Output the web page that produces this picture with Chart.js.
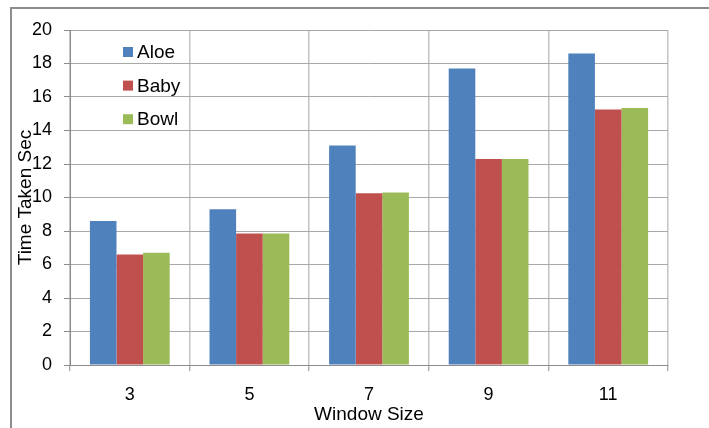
<!DOCTYPE html>
<html>
<head>
<meta charset="utf-8">
<script src="https://cdn.jsdelivr.net/npm/chart.js@4/dist/chart.umd.min.js"></script>
<style>
  html, body { margin: 0; padding: 0; background: #fff; }
  #wrap { width: 709px; height: 428px; position: relative; }
</style>
</head>
<body>
<div id="wrap"><canvas id="c" width="709" height="428"></canvas></div>
<script>
// Window sizes and time taken (seconds) per image
const windowSizes = ['3', '5', '7', '9', '11'];
const aloe = [8.6, 9.3, 13.1, 17.7, 18.6];
const baby = [6.6, 7.85, 10.25, 12.3, 15.25];
const bowl = [6.7, 7.85, 10.3, 12.3, 15.35];
const seriesNames = ['Aloe', 'Baby', 'Bowl'];
const seriesColors = ['#4F81BD', '#C0504D', '#9BBB59'];

const FONT = "'Liberation Sans', Arial, sans-serif";

// Outer frame around the chart
const framePlugin = {
  id: 'frame',
  beforeDraw(chart) {
    const ctx = chart.ctx;
    ctx.save();
    ctx.strokeStyle = '#8c8c8c';
    ctx.lineWidth = 2;
    ctx.beginPath();
    ctx.moveTo(11, 440);
    ctx.lineTo(11, 8);
    ctx.lineTo(720, 8);
    ctx.stroke();
    ctx.restore();
  }
};

// Legend drawn inside the plot area, top left
const innerLegend = {
  id: 'innerLegend',
  afterDatasetsDraw(chart) {
    const ctx = chart.ctx;
    ctx.save();
    ctx.font = '19px ' + FONT;
    ctx.textBaseline = 'middle';
    ctx.textAlign = 'left';
    chart.data.datasets.forEach((ds, i) => {
      const cy = 52 + i * 33.6;
      ctx.fillStyle = ds.backgroundColor;
      ctx.fillRect(123, cy - 5, 10, 10);
      ctx.fillStyle = '#000';
      ctx.fillText(ds.label, 137, cy + 1);
    });
    ctx.restore();
  }
};

new Chart(document.getElementById('c'), {
  type: 'bar',
  data: {
    labels: windowSizes,
    datasets: [aloe, baby, bowl].map((vals, i) => ({
      label: seriesNames[i],
      data: vals,
      backgroundColor: seriesColors[i],
      borderWidth: 0,
      categoryPercentage: 0.667,
      barPercentage: 1.0
    }))
  },
  options: {
    responsive: false,
    animation: false,
    devicePixelRatio: 1,
    layout: { padding: { left: 0, top: 30, right: 41, bottom: 0 } },
    plugins: {
      legend: { display: false },
      tooltip: { enabled: false }
    },
    scales: {
      x: {
        afterFit(scale) { scale.height = 63; },
        grid: {
          offset: true,
          color: '#c4c4c4',
          lineWidth: 1.5,
          borderDash: [2, 1],
          drawTicks: true,
          tickLength: 6,
          tickColor: '#8c8c8c',
          tickWidth: 1,
          tickBorderDash: []
        },
        border: { display: true, color: '#8c8c8c', width: 1 },
        ticks: {
          color: '#000',
          padding: 13,
          font: { family: FONT, size: 18 }
        },
        title: {
          display: true,
          text: 'Window Size',
          color: '#000',
          padding: { top: 0, bottom: 2 },
          font: { family: FONT, size: 19 }
        }
      },
      y: {
        min: 0,
        max: 20,
        afterFit(scale) { scale.width = 70; },
        grid: {
          color: '#a8a8a8',
          lineWidth: 1,
          borderDash: [1, 1],
          drawTicks: true,
          tickLength: 6,
          tickColor: '#8c8c8c',
          tickWidth: 1,
          tickBorderDash: []
        },
        border: { display: true, color: '#8c8c8c', width: 1 },
        ticks: {
          stepSize: 2,
          color: '#000',
          padding: 12,
          font: { family: FONT, size: 18 }
        },
        title: {
          display: true,
          text: 'Time Taken Sec',
          color: '#000',
          padding: { top: 14, bottom: 0 },
          font: { family: FONT, size: 19 }
        }
      }
    }
  },
  plugins: [framePlugin, innerLegend]
});
</script>
</body>
</html>
